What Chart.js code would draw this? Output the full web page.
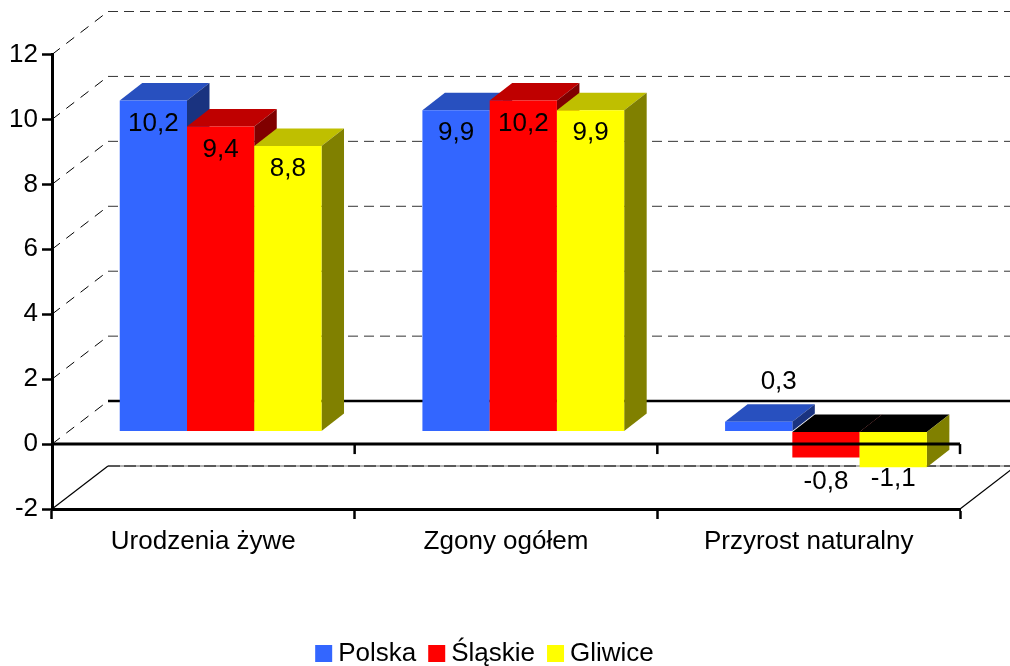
<!DOCTYPE html>
<html lang="pl">
<head>
<meta charset="utf-8">
<title>Ruch naturalny</title>
<script src="https://cdn.jsdelivr.net/npm/chart.js@4"></script>
<style>
  body { margin: 0; background: #fff; }
  canvas { display: block; }
</style>
</head>
<body>
<canvas id="chart" width="1010" height="666"></canvas>
<script>
// Data
const categories = ['Urodzenia żywe', 'Zgony ogółem', 'Przyrost naturalny'];
const polska = [10.2, 9.9, 0.3];
const slaskie = [9.4, 10.2, -0.8];
const gliwice = [8.8, 9.9, -1.1];
const yTicks = [12, 10, 8, 6, 4, 2, 0, -2];

const FONT = '"Liberation Sans", Arial, sans-serif';
const FONT_SIZE = 26;

// Depth of the fake 3D box
const wallDepth = { x: 56, y: 43 };
const barShift = { x: 17.3, y: 12.5 };
const barDepth = { x: 22.5, y: 17.5 };

const faces = [
  { top: '#2850BF', side: '#1A3380' },
  { top: '#BF0000', side: '#800000' },
  { top: '#BFBF00', side: '#808000' }
];

function line(ctx, x1, y1, x2, y2, color, width, dash) {
  ctx.beginPath();
  ctx.setLineDash(dash || []);
  ctx.strokeStyle = color;
  ctx.lineWidth = width;
  ctx.moveTo(x1, y1);
  ctx.lineTo(x2, y2);
  ctx.stroke();
  ctx.setLineDash([]);
}

function poly(ctx, pts, color) {
  ctx.beginPath();
  ctx.moveTo(pts[0][0], pts[0][1]);
  pts.slice(1).forEach(p => ctx.lineTo(p[0], p[1]));
  ctx.closePath();
  ctx.fillStyle = color;
  ctx.fill();
}

function decimal(v) {
  return v.toFixed(1).replace('.', ',');
}

const box3d = {
  id: 'box3d',

  beforeDatasetsDraw(chart) {
    const { ctx, scales: { x, y } } = chart;

    // Back wall and floor
    yTicks.forEach(v => {
      const py = y.getPixelForValue(v);
      const backY = py - wallDepth.y;
      const backL = x.left + wallDepth.x;
      const backR = x.right + wallDepth.x;
      if (v === -2) {
        line(ctx, x.left, py, backL, backY, '#000', 1.2);
        line(ctx, x.right, py, backR, backY, '#000', 1.2);
        line(ctx, backL, backY, backR, backY, '#666', 1);
        line(ctx, backL, backY, backR, backY, '#000', 1, [12, 4]);
      } else {
        line(ctx, x.left, py, backL, backY, '#000', 1, [10, 8]);
        if (v === 0) line(ctx, backL, backY, backR, backY, '#000', 2.5);
        else line(ctx, backL, backY, backR, backY, '#333', 1, [10, 6]);
      }
    });

    // Left to right so each bar covers the side of the one before it.
    // The library would paint the first dataset last, so do the loop here.
    chart.data.datasets.forEach((ds, d) => {
      const meta = chart.getDatasetMeta(d);
      ctx.save();
      ctx.translate(barShift.x, -barShift.y);
      meta.data.forEach((bar, i) => {
        const l = bar.x - bar.width / 2;
        const r = bar.x + bar.width / 2;
        const upper = Math.min(bar.y, bar.base);
        const lower = Math.max(bar.y, bar.base);
        const dx = barDepth.x;
        const dy = barDepth.y;
        poly(ctx, [[l, upper], [r, upper], [r + dx, upper - dy], [l + dx, upper - dy]],
          ds.data[i] < 0 ? '#000' : faces[d].top);
        poly(ctx, [[r, upper], [r + dx, upper - dy], [r + dx, lower - dy], [r, lower]],
          faces[d].side);
      });
      meta.controller.draw();
      ctx.restore();
    });
    return false;
  },

  afterDraw(chart) {
    const { ctx, scales: { x, y } } = chart;

    // Front zero line runs over the bars
    const zero = y.getPixelForValue(0);
    line(ctx, x.left, zero, x.right, zero, '#000', 3);
    for (let i = 1; i <= categories.length; i++) {
      const tx = x.left + i * x.width / categories.length;
      line(ctx, tx, zero, tx, zero + 10, '#000', 2.5);
    }

    // Value labels
    ctx.font = FONT_SIZE + 'px ' + FONT;
    ctx.fillStyle = '#000';
    ctx.textAlign = 'center';
    ctx.textBaseline = 'middle';
    chart.data.datasets.forEach((ds, d) => {
      chart.getDatasetMeta(d).data.forEach((bar, i) => {
        const v = ds.data[i];
        let lx = bar.x + barShift.x;
        let ly = bar.y - barShift.y + 23;
        if (v > 0 && v < 1) {
          // the small positive bar has its label up and to the right
          lx += 20;
          ly = bar.y - barShift.y - 40;
        }
        if (v < 0) ly = bar.y - barShift.y + (v < -1 ? 12 : 24);
        ctx.fillText(decimal(v), lx, ly);
      });
    });

    // Legend: tighter box/text gap than the built-in one allows
    const boxSize = 17, textGap = 6, itemGap = 12, centre = 484.5;
    const widths = chart.data.datasets.map(ds => ctx.measureText(ds.label).width);
    const total = widths.reduce((a, w) => a + boxSize + textGap + w, 0) + itemGap * (widths.length - 1);
    let lx = centre - total / 2;
    ctx.textAlign = 'left';
    ctx.textBaseline = 'alphabetic';
    chart.data.datasets.forEach((ds, d) => {
      ctx.fillStyle = ds.backgroundColor;
      ctx.fillRect(lx, 645, boxSize, boxSize);
      ctx.fillStyle = '#000';
      ctx.fillText(ds.label, lx + boxSize + textGap, 661);
      lx += boxSize + textGap + widths[d] + itemGap;
    });
  }
};

new Chart(document.getElementById('chart'), {
  type: 'bar',
  data: {
    labels: categories,
    datasets: [
      { label: 'Polska', data: polska, backgroundColor: '#3366FF' },
      { label: 'Śląskie', data: slaskie, backgroundColor: '#FF0000' },
      { label: 'Gliwice', data: gliwice, backgroundColor: '#FFFF00' }
    ]
  },
  options: {
    responsive: false,
    animation: false,
    layout: { padding: { top: 54.5, right: 50, left: 0, bottom: 0 } },
    categoryPercentage: 2 / 3,
    barPercentage: 1,
    plugins: {
      legend: { display: false },
      tooltip: { enabled: false }
    },
    scales: {
      x: {
        afterFit(scale) { scale.height = 157; },
        grid: { drawOnChartArea: false, tickLength: 10, tickWidth: 2.5, tickColor: '#000' },
        border: { color: '#000', width: 3 },
        ticks: { color: '#000', font: { family: FONT, size: FONT_SIZE }, padding: 7, maxRotation: 0, autoSkip: false }
      },
      y: {
        min: -2,
        max: 12,
        afterFit(scale) { scale.width = 52; },
        afterBuildTicks(scale) { scale.ticks = yTicks.map(v => ({ value: v })); },
        grid: { drawOnChartArea: false, tickLength: 10, tickWidth: 2.5, tickColor: '#000' },
        border: { color: '#000', width: 3 },
        ticks: { color: '#000', font: { family: FONT, size: FONT_SIZE }, padding: 4, callback: v => String(v) }
      }
    }
  },
  plugins: [box3d]
});
</script>
</body>
</html>
